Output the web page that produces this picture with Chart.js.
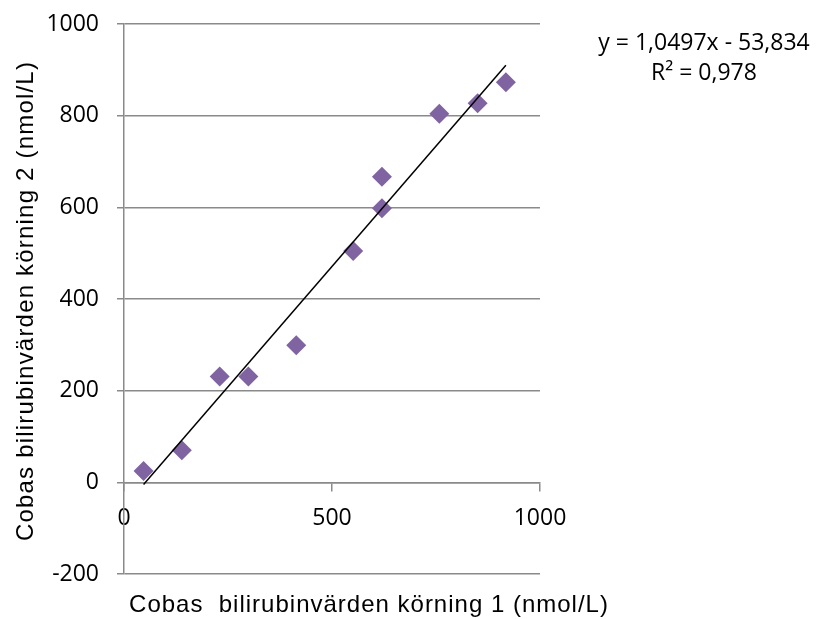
<!DOCTYPE html>
<html>
<head>
<meta charset="utf-8">
<script src="https://cdn.jsdelivr.net/npm/chart.js"></script>
<style>
  html, body { margin: 0; padding: 0; background: #fff; }
  #wrap { width: 817px; height: 619px; position: relative; }
</style>
</head>
<body>
<div id="wrap"><canvas id="bilirubinChart"></canvas></div>
<script type="text/javascript">

// Bilirubin values (nmol/L), run 1 vs run 2
const run1 = [47, 139, 230, 299, 414, 551, 620, 620, 758, 850, 918];
const run2 = [25, 70, 231, 231, 299, 505, 667, 598, 804, 827, 873];

// Linear trendline as reported
const slope = 1.0497;
const intercept = -53.834;
const rSquared = 0.978;

const xTicks = [0, 500, 1000];
const yTicks = [-200, 0, 200, 400, 600, 800, 1000];

const xTitle = 'Cobas  bilirubinvärden körning 1 (nmol/L)';
const yTitle = 'Cobas bilirubinvärden körning 2 (nmol/L)';

function fmt(v, d) {
    return v.toFixed(d).replace('.', ',');
}

const points = run1.map((x, i) => ({ x: x, y: run2[i] }));
const xMin = Math.min(...run1);
const xMax = Math.max(...run1);
const trend = [xMin, xMax].map(x => ({ x: x, y: slope * x + intercept }));

const gridGrey = '#8a8a8a';
const tickFont = { family: '"Open Sans"', size: 23 };

// axis titles and trendline equation
const textPlugin = {
    id: 'textPlugin',
    afterDraw(chart) {
        const ctx = chart.ctx;
        const area = chart.chartArea;
        ctx.save();
        ctx.fillStyle = '#000';
        ctx.font = '24px "Liberation Sans", Arial, sans-serif';
        ctx.letterSpacing = '1px';
        ctx.textAlign = 'center';
        ctx.textBaseline = 'alphabetic';
        ctx.fillText(xTitle, 369, 612);

        ctx.translate(33, (area.top + area.bottom) / 2 + 2);
        ctx.rotate(-Math.PI / 2);
        ctx.letterSpacing = '1.2px';
        ctx.fillText(yTitle, 0, 0);
        ctx.restore();

        ctx.save();
        ctx.fillStyle = '#000';
        ctx.font = '23px "Open Sans", sans-serif';
        ctx.textAlign = 'center';
        ctx.textBaseline = 'alphabetic';
        const sign = intercept < 0 ? ' - ' : ' + ';
        ctx.fillText('y = ' + fmt(slope, 4) + 'x' + sign + fmt(Math.abs(intercept), 3), 704, 50);
        ctx.fillText('R² = ' + fmt(rSquared, 3), 704, 80);
        ctx.restore();
    }
};

const ctx = document.getElementById('bilirubinChart').getContext('2d');
new Chart(ctx, {
    type: 'scatter',
    data: {
        datasets: [{
            data: points,
            pointStyle: 'rectRot',
            pointRadius: 10,
            pointHoverRadius: 10,
            pointBackgroundColor: '#8064a2',
            pointBorderColor: '#8064a2',
            pointBorderWidth: 0,
            order: 1
        }, {
            type: 'line',
            data: trend,
            borderColor: '#000',
            borderWidth: 1.5,
            pointRadius: 0,
            fill: false,
            order: 0
        }]
    },
    options: {
        responsive: true,
        maintainAspectRatio: false,
        animation: false,
        events: [],
        layout: { padding: { left: 0, right: 277, top: 24, bottom: 45 } },
        plugins: {
            legend: { display: false },
            tooltip: { enabled: false }
        },
        scales: {
            x: {
                type: 'linear',
                position: { y: 0 },
                min: 0,
                max: 1000,
                afterBuildTicks: s => { s.ticks = xTicks.map(v => ({ value: v })); },
                afterFit: s => { s.height = 0; },
                grid: { drawOnChartArea: false, drawTicks: true, tickLength: 8, color: gridGrey, lineWidth: 1.5 },
                border: { color: gridGrey, width: 1.5 },
                ticks: { font: tickFont, color: '#000', padding: 14, maxRotation: 0, callback: v => String(v) }
            },
            y: {
                type: 'linear',
                position: 'left',
                min: -200,
                max: 1000,
                afterBuildTicks: s => { s.ticks = yTicks.map(v => ({ value: v })); },
                afterFit: s => {
                    s.width = 124;
                    s.paddingTop = 0;
                    s.paddingBottom = 0;
                },
                grid: { color: gridGrey, lineWidth: 1.5, tickLength: 7 },
                border: { color: gridGrey, width: 1.5 },
                ticks: { font: tickFont, color: '#000', padding: 18, callback: v => String(v) }
            }
        }
    },
    plugins: [textPlugin]
});
</script>
</body>
</html>
